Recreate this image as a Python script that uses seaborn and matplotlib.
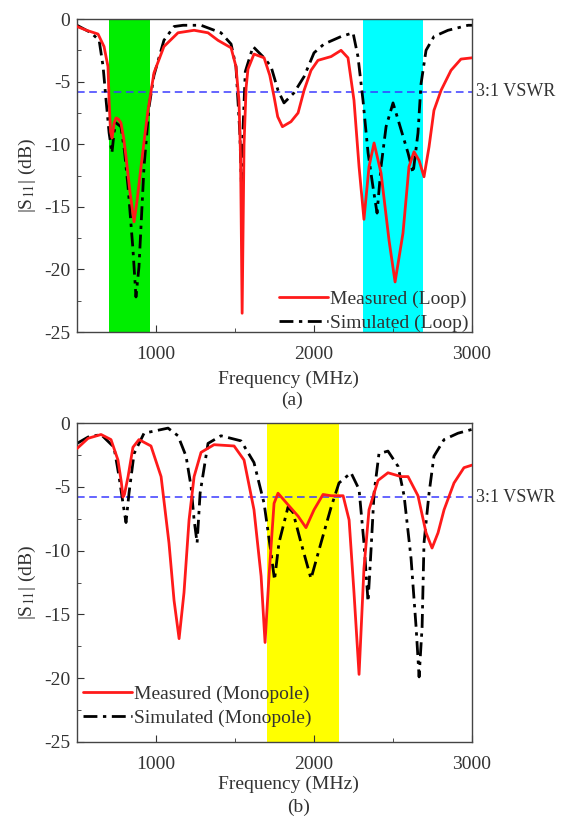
import matplotlib
matplotlib.use("Agg")
import matplotlib.pyplot as plt
from matplotlib.ticker import MultipleLocator
import seaborn as sns

# panel (a) loop antenna
f_loop_meas = [500, 560, 633, 671, 696, 703, 712, 722, 735, 747, 762, 778, 795, 810, 835, 861, 880, 905,
               930, 949, 987, 1050, 1139, 1241, 1329, 1392, 1475, 1506, 1525, 1535, 1545, 1557, 1570, 1582,
               1620, 1684, 1720, 1747, 1770, 1800, 1854, 1899, 1937, 1981, 2025, 2108, 2171, 2215, 2253,
               2285, 2316, 2348, 2380, 2424, 2475, 2513, 2563, 2601, 2633, 2665, 2696, 2728, 2759, 2804,
               2867, 2930, 3000]
s_loop_meas = [-0.6, -0.9, -1.2, -2.2, -3.8, -6.5, -9.0, -9.5, -8.3, -7.9, -8.0, -8.3, -9.5, -11.0, -13.8,
               -16.2, -14.5, -11.8, -9.2, -7.3, -4.3, -2.2, -1.1, -0.9, -1.1, -1.7, -2.3, -3.8, -6.5, -11.0,
               -23.5, -10.0, -5.5, -4.0, -2.8, -3.1, -4.5, -6.2, -7.8, -8.6, -8.2, -7.5, -5.7, -4.1, -3.3,
               -3.0, -2.5, -3.1, -6.5, -11.8, -16.0, -11.8, -9.9, -12.3, -17.7, -21.0, -17.1, -11.8, -10.6,
               -11.3, -12.6, -10.2, -7.3, -5.7, -4.1, -3.2, -3.1]
f_loop_sim = [500, 589, 640, 665, 684, 703, 721, 735, 747, 778, 800, 823, 854, 873, 892, 924, 956, 987,
              1050, 1114, 1171, 1285, 1411, 1475, 1506, 1530, 1540, 1550, 1565, 1614, 1684, 1728, 1772,
              1810, 1873, 1937, 2000, 2063, 2171, 2247, 2278, 2310, 2342, 2373, 2399, 2424, 2456, 2500,
              2538, 2595, 2627, 2658, 2677, 2709, 2759, 2848, 2975, 3000]
s_loop_sim = [-0.5, -1.1, -1.7, -3.8, -6.5, -9.1, -10.7, -9.0, -8.3, -8.6, -10.5, -13.4, -18.4, -22.2,
              -19.8, -11.8, -7.0, -4.5, -1.7, -0.6, -0.5, -0.5, -1.1, -2.0, -3.8, -9.0, -13.0, -9.0, -4.2,
              -2.2, -3.1, -3.8, -5.7, -6.7, -5.9, -4.6, -2.7, -2.0, -1.4, -1.1, -3.0, -6.5, -10.7, -13.4,
              -15.5, -11.8, -8.6, -6.7, -8.3, -10.7, -12.3, -9.1, -5.2, -2.5, -1.4, -0.9, -0.5, -0.5]

# panel (b) monopole antenna
f_mono_meas = [500, 570, 652, 715, 759, 780, 791, 800, 823, 854, 892, 968, 1032, 1082, 1114, 1146, 1177,
               1209, 1241, 1285, 1367, 1494, 1557, 1620, 1665, 1690, 1715, 1747, 1772, 1835, 1899, 1949,
               2000, 2057, 2108, 2184, 2222, 2253, 2285, 2316, 2348, 2405, 2468, 2551, 2595, 2658, 2709,
               2747, 2785, 2823, 2886, 2949, 3000]
s_mono_meas = [-2.0, -1.2, -0.9, -1.3, -2.9, -4.6, -5.8, -5.6, -4.2, -1.9, -1.3, -1.8, -4.2, -9.4, -13.9,
               -16.9, -13.3, -7.6, -4.2, -2.3, -1.7, -1.8, -2.9, -6.8, -12.0, -17.2, -12.0, -6.3, -5.5,
               -6.4, -7.3, -8.2, -6.8, -5.6, -5.7, -5.7, -7.6, -13.3, -19.7, -11.4, -6.8, -4.5, -3.9, -4.2,
               -4.2, -5.7, -8.6, -9.8, -8.6, -6.8, -4.7, -3.5, -3.3]
f_mono_sim = [500, 570, 652, 734, 766, 791, 810, 829, 861, 924, 1076, 1139, 1190, 1222, 1241, 1260, 1279,
              1329, 1411, 1538, 1620, 1684, 1728, 1750, 1778, 1835, 1867, 1918, 1981, 2044, 2108, 2158,
              2234, 2285, 2316, 2342, 2361, 2380, 2411, 2468, 2532, 2570, 2614, 2646, 2665, 2684, 2696,
              2728, 2759, 2823, 2911, 3000]
s_mono_sim = [-1.6, -1.1, -0.9, -1.9, -4.2, -6.3, -7.8, -5.5, -2.4, -0.8, -0.4, -1.0, -2.6, -5.0, -7.6,
              -9.4, -5.5, -1.6, -1.0, -1.4, -3.1, -6.3, -10.2, -12.3, -9.4, -6.6, -7.0, -9.4, -12.2, -9.4,
              -6.6, -4.7, -3.9, -5.2, -9.4, -14.0, -9.9, -5.5, -2.4, -2.2, -3.4, -5.7, -10.6, -16.0, -19.9,
              -16.0, -9.4, -5.5, -2.6, -1.3, -0.8, -0.5]

vswr = -5.8
bands_a = [(700, 960, "#00ee00"), (2310, 2690, "#00ffff")]
bands_b = [(1700, 2160, "#ffff00")]

sns.set_style("ticks")
plt.rcParams["font.family"] = ["Liberation Serif", "DejaVu Serif"]
plt.rcParams["mathtext.fontset"] = "stix"
fs = 14

fig = plt.figure(figsize=(5.61, 8.16), dpi=100)
ax1 = fig.add_axes([0.1373, 0.5931, 0.7041, 0.3836])
ax2 = fig.add_axes([0.1373, 0.0907, 0.7041, 0.3909])

sim_dash = (0, (5, 2, 1.2, 2))
txt = "#333333"


def panel(ax, fm, sm, fsim, ssim, bands, names, legloc, anchor, tag, lab_y, tag_xy):
    for lo, hi, c in bands:
        ax.axvspan(lo, hi, color=c, lw=0, zorder=0)
    ax.axhline(vswr, color="#3a3aff", lw=1.1, ls=(0, (5, 3)), zorder=1)
    sns.lineplot(x=fm, y=sm, ax=ax, color="#ff1a1a", lw=2, sort=False, estimator=None,
                 label=names[0], zorder=3)
    sns.lineplot(x=fsim, y=ssim, ax=ax, color="black", lw=2, sort=False, estimator=None,
                 label=names[1], zorder=2)
    ax.lines[-1].set_linestyle(sim_dash)
    ax.set_xlim(500, 3000)
    ax.set_ylim(-25, 0)
    ax.xaxis.set_minor_locator(MultipleLocator(500))
    ax.yaxis.set_minor_locator(MultipleLocator(2.5))
    ax.set_xticks([1000, 2000, 3000])
    ax.set_yticks([0, -5, -10, -15, -20, -25])
    ax.set_yticklabels(["0", "-5", "-10", "-15", "-20", "-25"])
    ax.tick_params(which="both", direction="in", labelsize=fs, colors=txt)
    ax.tick_params(which="major", length=5)
    ax.tick_params(which="minor", length=3)
    ax.tick_params(axis="x", pad=10)
    ax.tick_params(axis="y", pad=5)
    for sp in ax.spines.values():
        sp.set_visible(True)
        sp.set_color("#444444")
        sp.set_linewidth(1)
    ax.set_xlabel("Frequency (MHz)", fontsize=fs, color=txt)
    ax.xaxis.set_label_coords(0.534, lab_y)
    ax.set_ylabel(r"|S$_{11}$| (dB)", fontsize=fs, color=txt)
    ax.yaxis.set_label_coords(-0.10, 0.5)
    ax.text(1.01, vswr, "3:1 VSWR", transform=ax.get_yaxis_transform(), va="center", ha="left",
            fontsize=13, color=txt)
    ax.text(tag_xy[0], tag_xy[1], tag, transform=ax.transAxes, ha="center", va="center", fontsize=fs,
            color=txt)
    leg = ax.legend(loc=legloc, bbox_to_anchor=anchor, frameon=False, fontsize=fs, handlelength=2.5,
                    handletextpad=0.1, labelspacing=0.35, borderaxespad=0, borderpad=0)
    for t in leg.get_texts():
        t.set_color(txt)


panel(ax1, f_loop_meas, s_loop_meas, f_loop_sim, s_loop_sim, bands_a,
      ["Measured (Loop)", "Simulated (Loop)"], "lower right", (0.99, 0.0), "(a)", -0.125, (0.544, -0.217))
panel(ax2, f_mono_meas, s_mono_meas, f_mono_sim, s_mono_sim, bands_b,
      ["Measured (Monopole)", "Simulated (Monopole)"], "lower left", (0.015, 0.047), "(b)", -0.105,
      (0.56, -0.204))

fig.savefig("out.png", dpi=100)
